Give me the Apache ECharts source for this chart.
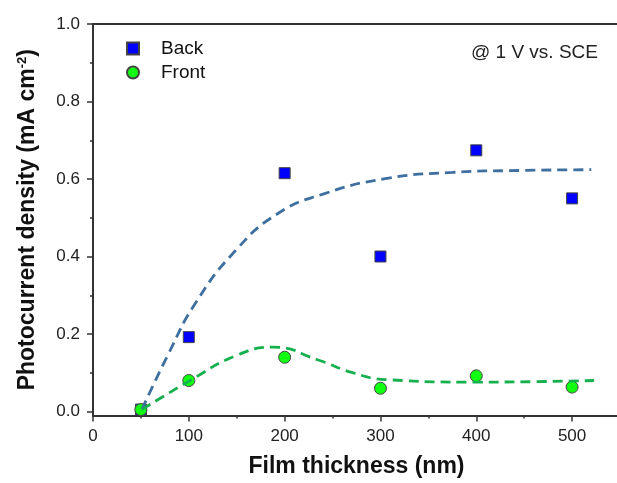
<!DOCTYPE html>
<html>
<head>
<meta charset="utf-8">
<script src="https://cdn.jsdelivr.net/npm/echarts@6/dist/echarts.min.js"></script>
<style>
    html, body { margin: 0; padding: 0; background: #fff; }
    #main { width: 617px; height: 483px; }
</style>
</head>
<body>
<div id="main"></div>
<script>
// measured points
let thickness = [50, 100, 200, 300, 400, 500];
let backValues = [0.005, 0.192, 0.615, 0.40, 0.674, 0.55];
let frontValues = [0.005, 0.08, 0.14, 0.06, 0.092, 0.063];

// dashed guide curves
let backFitX = [51, 79, 107, 149, 193, 240, 305, 375, 445, 520];
let backFitY = [0.005, 0.15, 0.28, 0.416, 0.511, 0.561, 0.601, 0.617, 0.622, 0.624];
let frontFitX = [51, 100, 150, 188, 235, 270, 308, 400, 460, 523];
let frontFitY = [0.005, 0.078, 0.145, 0.166, 0.133, 0.101, 0.082, 0.076, 0.077, 0.08];

// ticks
let xTicks = [0, 100, 200, 300, 400, 500];
let xMinorTicks = [50, 150, 250, 350, 450];
let yTicks = [0, 0.2, 0.4, 0.6, 0.8, 1.0];
let yMinorTicks = [0.1, 0.3, 0.5, 0.7, 0.9];

function pairs(xs, ys) {
    let out = [];
    for (let i = 0; i < xs.length; i++) {
        out.push([xs[i], ys[i]]);
    }
    return out;
}

let font = '"Liberation Sans", Arial, sans-serif';
let axisColor = '#333';

let myChart = echarts.init(document.getElementById('main'));
let option = {
    animation: false,
    backgroundColor: '#fff',
    grid: {
        left: 93,
        right: -3,
        top: 24,
        bottom: 67.6,
        outerBoundsMode: 'none'
    },
    legend: {
        orient: 'vertical',
        left: 121,
        top: 34,
        itemWidth: 46,
        itemHeight: 12,
        itemGap: 5,
        symbolKeepAspect: true,
        textStyle: { fontFamily: font, fontSize: 19, color: '#111' },
        data: [
            { name: 'Back', icon: 'path://M0,0H10V10H0Z' },
            { name: 'Front', icon: 'circle' }
        ]
    },
    graphic: [{
        type: 'text',
        x: 471,
        y: 53,
        style: {
            text: '@ 1 V vs. SCE',
            fontFamily: font,
            fontSize: 19,
            fill: '#222',
            verticalAlign: 'middle'
        }
    }],
    xAxis: [
        {
            type: 'value',
            position: 'bottom',
            min: 0,
            max: 550,
            name: 'Film thickness (nm)',
            nameLocation: 'middle',
            nameGap: 40,
            nameTextStyle: { fontFamily: font, fontSize: 23, fontWeight: 'bold', color: '#111' },
            splitLine: { show: false },
            axisLine: { show: true, onZero: false, lineStyle: { color: axisColor, width: 2 } },
            axisTick: { show: true, inside: false, length: 6, customValues: xTicks, lineStyle: { color: axisColor, width: 1.5 } },
            axisLabel: { customValues: xTicks, margin: 12, fontFamily: font, fontSize: 17, color: '#222' }
        },
        {
            // minor ticks
            type: 'value',
            position: 'bottom',
            min: 0,
            max: 550,
            splitLine: { show: false },
            axisLine: { show: false, onZero: false },
            axisTick: { show: true, length: 3, customValues: xMinorTicks, lineStyle: { color: axisColor, width: 1.5 } },
            axisLabel: { show: false }
        },
        {
            // top frame line
            type: 'value',
            position: 'top',
            min: 0,
            max: 550,
            splitLine: { show: false },
            axisLine: { show: true, onZero: false, lineStyle: { color: axisColor, width: 2 } },
            axisTick: { show: false },
            axisLabel: { show: false }
        }
    ],
    yAxis: [
        {
            type: 'value',
            position: 'left',
            min: -0.01,
            max: 1.0,
            name: '{a|Photocurrent density (mA cm}{s|-2}{a|)}',
            nameLocation: 'middle',
            nameRotate: 90,
            nameGap: 54,
            nameTextStyle: {
                rich: {
                    a: { fontFamily: font, fontSize: 23, fontWeight: 'bold', color: '#111' },
                    s: { fontFamily: font, fontSize: 13, fontWeight: 'bold', color: '#111', verticalAlign: 'top', padding: [0, 0, 10, 0] }
                }
            },
            splitLine: { show: false },
            axisLine: { show: true, onZero: false, lineStyle: { color: axisColor, width: 2 } },
            axisTick: { show: true, length: 6, customValues: yTicks, lineStyle: { color: axisColor, width: 1.5 } },
            axisLabel: {
                customValues: yTicks,
                margin: 13,
                fontFamily: font,
                fontSize: 17,
                color: '#222',
                formatter: function (v) { return v.toFixed(1); }
            }
        },
        {
            // minor ticks
            type: 'value',
            position: 'left',
            min: -0.01,
            max: 1.0,
            splitLine: { show: false },
            axisLine: { show: false, onZero: false },
            axisTick: { show: true, length: 3, customValues: yMinorTicks, lineStyle: { color: axisColor, width: 1.5 } },
            axisLabel: { show: false }
        }
    ],
    series: [
        {
            name: 'Back fit',
            type: 'line',
            data: pairs(backFitX, backFitY),
            smooth: 0.5,
            showSymbol: false,
            symbol: 'none',
            lineStyle: { color: '#3f6f9e', width: 2.8, type: [10, 6] }
        },
        {
            name: 'Front fit',
            type: 'line',
            data: pairs(frontFitX, frontFitY),
            smooth: 0.5,
            showSymbol: false,
            symbol: 'none',
            lineStyle: { color: '#16b04e', width: 2.8, type: [10, 6] }
        },
        {
            name: 'Back',
            type: 'scatter',
            symbol: 'rect',
            symbolSize: 11,
            data: pairs(thickness, backValues),
            itemStyle: { color: '#0000ff', borderColor: '#444', borderWidth: 1, opacity: 1 }
        },
        {
            name: 'Front',
            type: 'scatter',
            symbol: 'circle',
            symbolSize: 12,
            data: pairs(thickness, frontValues),
            itemStyle: { color: '#11ff11', borderColor: '#444', borderWidth: 1, opacity: 1 }
        }
    ]
};
myChart.setOption(option);
</script>
</body>
</html>
